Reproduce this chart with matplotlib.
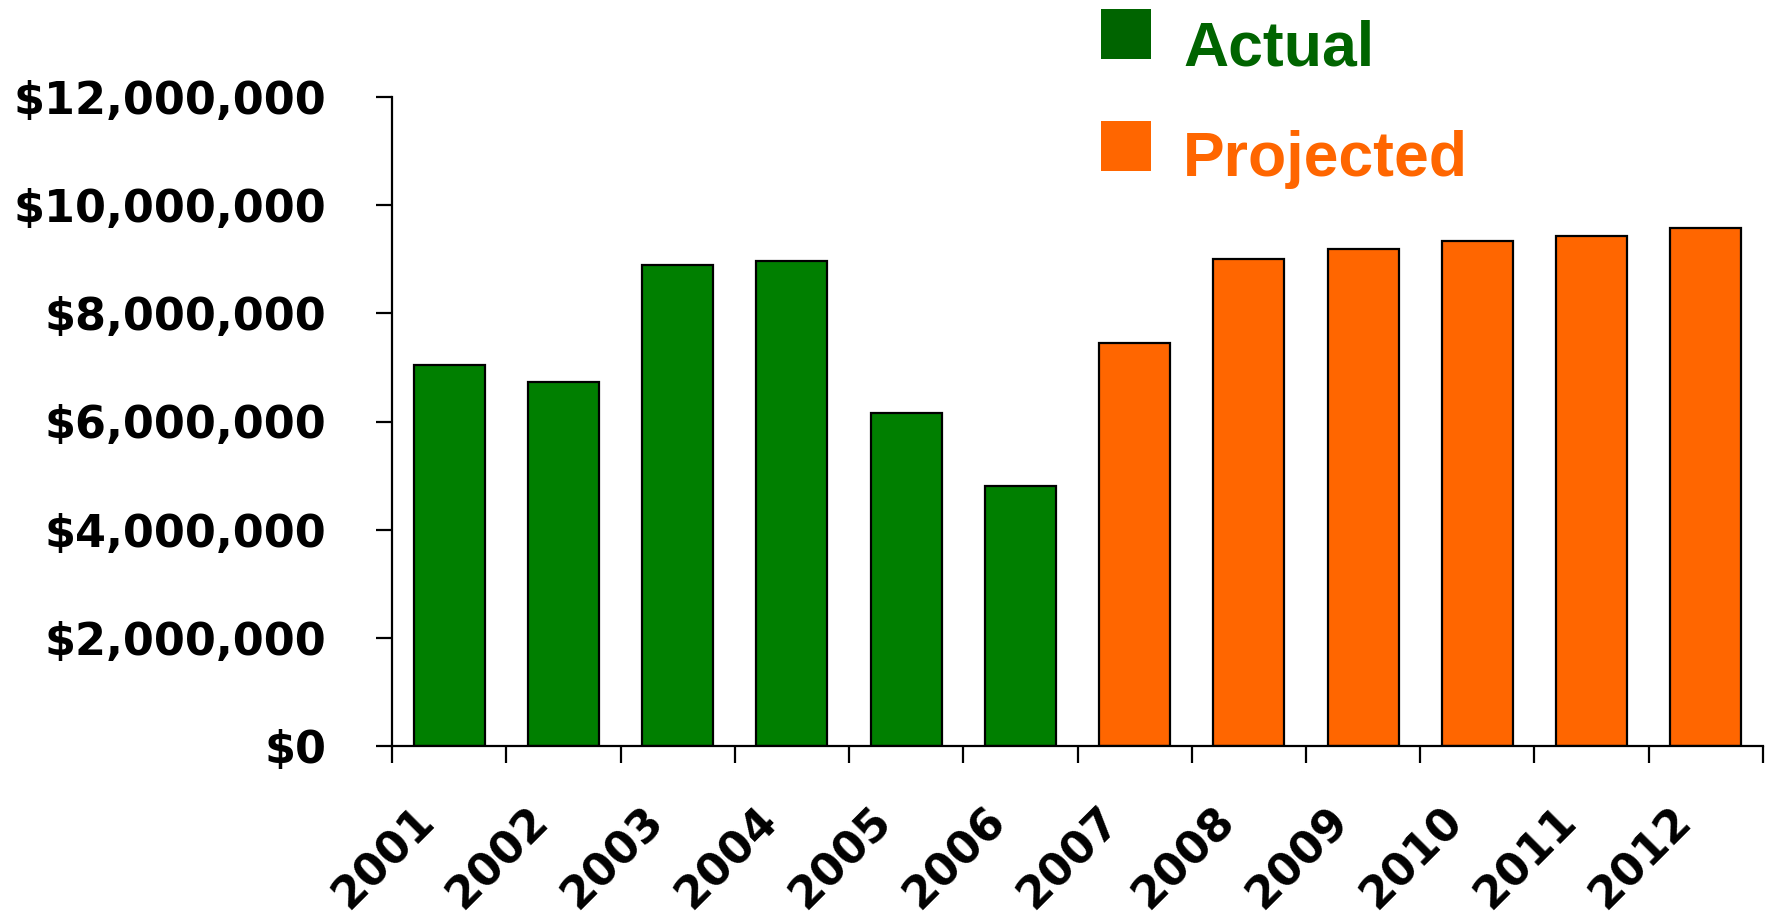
import matplotlib
matplotlib.use("Agg")
import matplotlib.pyplot as plt
import matplotlib.transforms as mtransforms
from matplotlib.ticker import FixedLocator, FuncFormatter

years = ["2001", "2002", "2003", "2004", "2005", "2006",
         "2007", "2008", "2009", "2010", "2011", "2012"]
values = [7040000, 6730000, 8890000, 8960000, 6150000, 4810000,
          7460000, 9000000, 9190000, 9330000, 9430000, 9570000]
status = ["Actual"] * 6 + ["Projected"] * 6
yticks = [0, 2000000, 4000000, 6000000, 8000000, 10000000, 12000000]

bar_colors = {"Actual": "#007F00", "Projected": "#FF6600"}
legend_colors = {"Actual": "#006400", "Projected": "#FF6600"}

W, H, DPI = 1773, 918, 100
fig = plt.figure(figsize=(W / DPI, H / DPI), dpi=DPI)
ax = fig.add_axes([392 / W, 1 - 746 / H, (1763 - 392) / W, (746 - 97) / H])

x = list(range(len(years)))
ax.bar(x, values, width=0.62, color=[bar_colors[s] for s in status],
       edgecolor="black", linewidth=1.6, zorder=2)

ax.set_xlim(-0.5, len(years) - 0.5)
ax.set_ylim(0, 12000000)

for s in ["top", "right"]:
    ax.spines[s].set_visible(False)
for s in ["left", "bottom"]:
    ax.spines[s].set_linewidth(1.6)
    ax.spines[s].set_zorder(3)

tick_font = dict(family="DejaVu Sans", weight="bold", size=32)

# y axis
ax.set_yticks(yticks)
ax.yaxis.set_major_formatter(FuncFormatter(lambda v, p: "${:,.0f}".format(v)))
ax.tick_params(axis="y", direction="out", length=11.5, width=1.6, pad=36)
for lab in ax.get_yticklabels():
    lab.set_fontproperties(matplotlib.font_manager.FontProperties(**tick_font))

# x axis: ticks at boundaries, labels at centres
ax.xaxis.set_major_locator(FixedLocator([i - 0.5 for i in range(len(years) + 1)]))
ax.xaxis.set_major_formatter(FuncFormatter(lambda v, p: ""))
ax.xaxis.set_minor_locator(FixedLocator(x))
ax.set_xticklabels(years, minor=True)
ax.tick_params(axis="x", which="major", direction="out", length=12.5, width=1.6)
ax.tick_params(axis="x", which="minor", length=0, pad=38)
offset = mtransforms.ScaledTranslation(-6 / DPI, 0, fig.dpi_scale_trans)
for lab in ax.get_xticklabels(minor=True):
    lab.set_fontproperties(matplotlib.font_manager.FontProperties(**tick_font))
    lab.set_rotation(45)
    lab.set_ha("right")
    lab.set_va("top")
    lab.set_transform(lab.get_transform() + offset)

# legend (manual, in figure pixels)
legend_items = ["Actual", "Projected"]
sq_y = [9, 121]
base_y = [65, 176]
for name, y0, yb in zip(legend_items, sq_y, base_y):
    fig.patches.append(plt.Rectangle((1101 / W, 1 - (y0 + 50) / H), 50 / W, 50 / H,
                                     transform=fig.transFigure,
                                     facecolor=legend_colors[name], edgecolor="none"))
    fig.text(1183 / W, 1 - yb / H, name, color=legend_colors[name],
             family="Liberation Sans", weight="bold", fontsize=45,
             ha="left", va="baseline")

fig.savefig("out.png", dpi=DPI, facecolor="white")
